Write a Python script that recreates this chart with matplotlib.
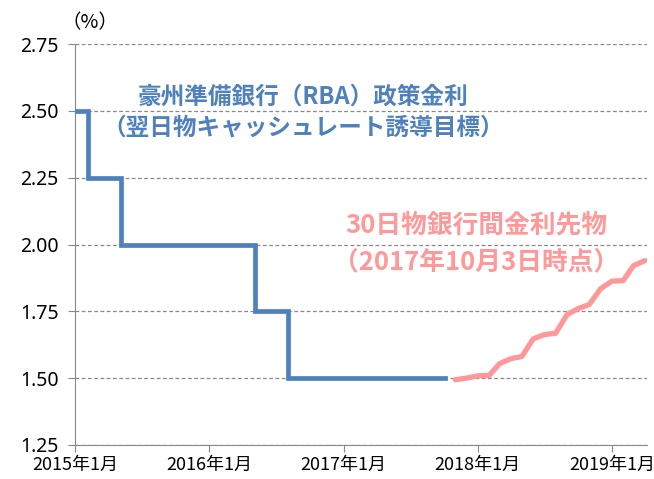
import datetime as dt
import matplotlib
matplotlib.use("Agg")
import matplotlib.pyplot as plt

plt.rcParams['font.family'] = ['Noto Sans CJK JP', 'DejaVu Sans']

# RBA cash rate target (step changes)
rba_dates = [dt.date(2015, 1, 1), dt.date(2015, 2, 4), dt.date(2015, 5, 6),
             dt.date(2016, 5, 4), dt.date(2016, 8, 3), dt.date(2017, 10, 3)]
rba_rate = [2.50, 2.25, 2.00, 1.75, 1.50, 1.50]

# 30-day interbank cash rate futures (as of 2017-10-03)
fut_months = ["2017-11", "2017-12", "2018-01", "2018-02", "2018-03", "2018-04",
              "2018-05", "2018-06", "2018-07", "2018-08", "2018-09", "2018-10",
              "2018-11", "2018-12", "2019-01", "2019-02", "2019-03", "2019-04"]
fut_rate = [1.494, 1.500, 1.509, 1.510, 1.554, 1.573, 1.581, 1.647, 1.663,
            1.668, 1.738, 1.760, 1.776, 1.834, 1.863, 1.865, 1.921, 1.940]
fut_dates = [dt.datetime.strptime(m, "%Y-%m").date() for m in fut_months]

yticks = [1.25, 1.50, 1.75, 2.00, 2.25, 2.50, 2.75]
xticks = [dt.date(y, 1, 1) for y in range(2015, 2020)]
xlabels = ["{}年1月".format(d.year) for d in xticks]

blue = "#4F81BD"
pink = "#FF9999"

fig = plt.figure(figsize=(6.54, 4.79), dpi=100)
ax = fig.add_axes([0.115, 0.071, 0.875, 0.837])

ax.step(rba_dates, rba_rate, where="post", color=blue, lw=3.4,
        solid_joinstyle="miter", zorder=3)
ax.plot(fut_dates, fut_rate, color=pink, lw=3.8, solid_capstyle="round",
        zorder=3)

ax.set_ylim(1.25, 2.75)
ax.set_yticks(yticks)
ax.set_yticklabels(["{:.2f}".format(v) for v in yticks], fontsize=14,
                   family="Noto Sans")
ax.set_xlim(dt.date(2015, 1, 1), dt.date(2019, 4, 8))
ax.set_xticks(xticks)
ax.set_xticklabels(xlabels, fontsize=13)
ax.tick_params(axis="both", colors="#888888", labelcolor="black", length=5)
ax.tick_params(axis="y", pad=7)
ax.tick_params(axis="x", pad=3)

ax.grid(axis="y", ls=(0, (3, 2)), color="#888888", lw=0.9)
for s in ["top", "right"]:
    ax.spines[s].set_visible(False)
ax.spines["left"].set_color("#888888")
ax.spines["bottom"].set_color("#888888")

fig.text(0.138, 0.952, "（%）", fontsize=14, ha="center", va="center")

ax.text(dt.date(2016, 9, 12), 2.552, "豪州準備銀行（RBA）政策金利",
        color=blue, fontsize=17, fontweight="bold", ha="center", va="center")
ax.text(dt.date(2016, 9, 12), 2.436, "（翌日物キャッシュレート誘導目標）",
        color=blue, fontsize=17, fontweight="bold", ha="center", va="center")
ax.text(dt.date(2017, 12, 28), 2.073, "30日物銀行間金利先物",
        color=pink, fontsize=18.5, fontweight="bold", ha="center", va="center")
ax.text(dt.date(2017, 12, 28), 1.935, "（2017年10月3日時点）",
        color=pink, fontsize=18.5, fontweight="bold", ha="center", va="center")

fig.savefig("out.png", dpi=100)
